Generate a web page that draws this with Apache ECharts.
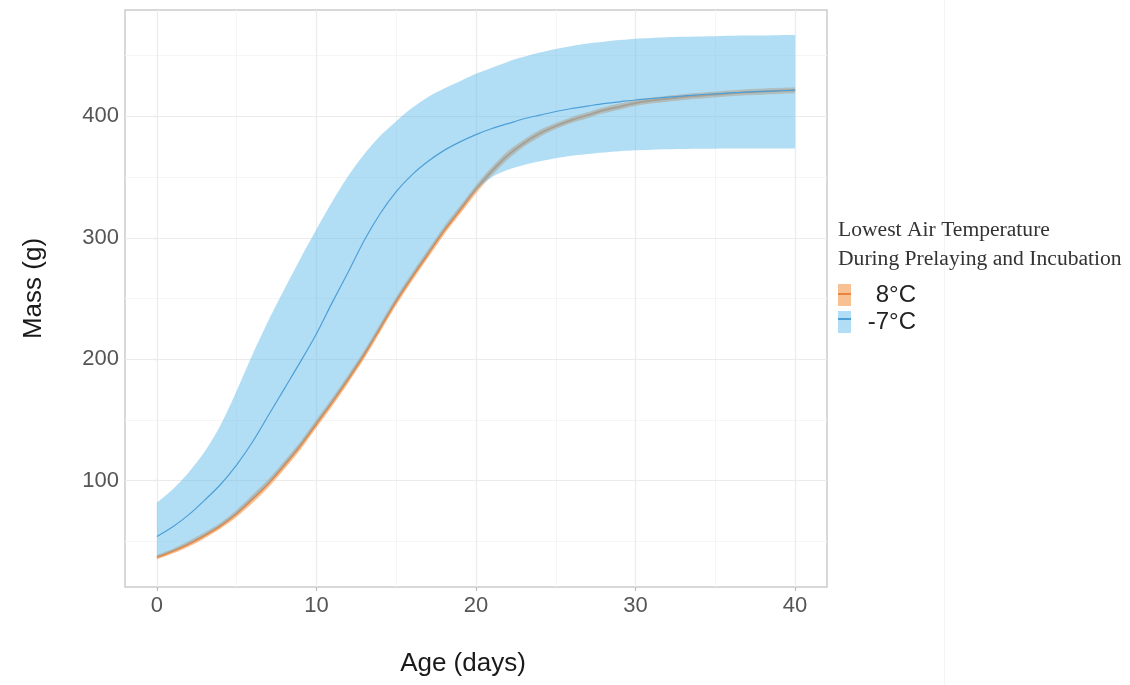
<!DOCTYPE html>
<html>
<head>
<meta charset="utf-8">
<script src="https://cdn.jsdelivr.net/npm/echarts@6/dist/echarts.min.js"></script>
<style>
  html, body { margin: 0; padding: 0; background: #ffffff; }
  #chart { width: 1130px; height: 685px; }
</style>
</head>
<body>
<div id="chart"></div>
<script>
// Age of the chicks (days)
const ages = [0, 1, 2, 3, 4, 5, 6, 7, 8, 9, 10, 11, 12, 13, 14, 15, 16, 17, 18, 19, 20,
  21, 22, 23, 24, 25, 26, 27, 28, 29, 30, 31, 32, 33, 34, 35, 36, 37, 38, 39, 40];

// Fitted mass (g) and its interval, lowest temperature 8°C
const mean8 = [37, 42, 48, 55, 63, 73, 85, 98, 113, 129, 147, 165, 184, 204, 226, 248, 268, 287, 306, 323, 340,
  355, 368, 378, 386, 392, 397, 401, 405, 408, 411, 413, 414.5, 416, 417, 418, 419, 419.8, 420.4, 421, 421.5];
const low8 = [35, 40, 45.5, 52.5, 60.5, 70, 81.5, 94.5, 109.5, 125.5, 143.5, 161.5, 180.5, 200.5, 222.5, 244.5, 264.5, 283.5, 302.5, 319.5, 336.5,
  351.5, 364.5, 375, 383, 389.5, 394.5, 398.5, 402.5, 405.5, 408.5, 410.5, 412, 413.5, 414.5, 415.5, 416.5, 417.3, 417.9, 418.5, 419];
const high8 = [39, 44, 50.5, 57.5, 65.5, 76, 88.5, 101.5, 116.5, 132.5, 150.5, 168.5, 187.5, 207.5, 229.5, 251.5, 271.5, 290.5, 309.5, 326.5, 343.5,
  358.5, 371.5, 381, 389, 394.5, 399.5, 403.5, 407.5, 410.5, 413.5, 415.5, 417, 418.5, 419.5, 420.5, 421.5, 422.3, 422.9, 423.5, 424];

// Fitted mass (g) and its interval, lowest temperature -7°C
const mean7 = [54, 62, 72, 84, 97, 113, 132, 154, 176, 198, 221, 247, 272, 298, 320, 338, 352, 363, 372, 379, 385,
  390, 394, 398, 401, 404, 406.5, 408.5, 410.5, 412, 413.5, 414.7, 415.8, 416.8, 417.8, 418.6, 419.3, 420, 420.6, 421.1, 421.6];
const low7 = [37, 42, 48, 55, 63, 73, 85, 98, 113, 129, 147, 165, 184, 204, 226, 248, 268, 287, 306, 323, 339,
  350, 356, 360, 363, 365.5, 367.5, 369, 370.3, 371.3, 372, 372.5, 372.9, 373.1, 373.3, 373.4, 373.5, 373.5, 373.5, 373.5, 373.5];
const high7 = [82, 93, 107, 124, 146, 174, 204, 232, 258, 283, 307, 330, 351, 369, 384, 396, 407, 416, 423, 429, 435,
  440, 445, 449, 452.5, 455.5, 458, 460, 461.5, 462.8, 464, 464.6, 465.1, 465.5, 465.8, 466, 466.3, 466.5, 466.7, 466.9, 467];

// Axis ticks and grid
const xTicks = [0, 10, 20, 30, 40];
const xMinor = [5, 15, 25, 35];
const yTicks = [100, 200, 300, 400];
const yMinor = [50, 150, 250, 350, 450];

const groupNames = ['8°C', '-7°C'];
const legendTitle = 'Lowest Air Temperature\nDuring Prelaying and Incubation';

const COLORS = {
  band8: 'rgba(242,142,60,0.55)',
  line8: '#e8843f',
  band7: 'rgba(101,189,235,0.5)',
  line7: '#4d9fd8'
};

const sansFont = 'Liberation Sans, Arial, sans-serif';
const SMOOTH = 0.3;

const pairs = vals => ages.map((a, i) => [a, vals[i]]);

const gridLines = [].concat(
  yMinor.map(v => ({ yAxis: v, lineStyle: { color: '#f5f5f5', width: 1, type: 'solid' } })),
  xMinor.map(v => ({ xAxis: v, lineStyle: { color: '#f5f5f5', width: 1, type: 'solid' } })),
  yTicks.map(v => ({ yAxis: v, lineStyle: { color: '#ebebeb', width: 1.2, type: 'solid' } })),
  xTicks.map(v => ({ xAxis: v, lineStyle: { color: '#ebebeb', width: 1.2, type: 'solid' } }))
);

// Interval ribbon: one closed polygon between the lower and upper bounds.
// End points are repeated so the smoothing keeps the two ends square.
function ribbon(name, lo, hi, color, z) {
  return {
    type: 'custom', name: name, z: z, silent: true, clip: true,
    data: ages.map((a, i) => [a, lo[i], hi[i]]),
    encode: { x: 0, y: [1, 2] },
    renderItem: function (params, api) {
      if (params.dataIndex !== 0) return null;
      const top = ages.map((a, i) => api.coord([a, hi[i]]));
      const bottom = ages.map((a, i) => api.coord([a, lo[i]])).reverse();
      const n = top.length;
      const pts = [top[0]].concat(top, [top[n - 1]], [bottom[0]], bottom, [bottom[n - 1]]);
      return {
        type: 'polygon',
        shape: { points: pts, smooth: SMOOTH },
        style: { fill: color, stroke: null }
      };
    }
  };
}

function meanLine(name, vals, color, width, z) {
  return {
    type: 'line', name: name, data: pairs(vals), smooth: SMOOTH, symbol: 'none',
    lineStyle: { color: color, width: width }, silent: true, z: z
  };
}

const chart = echarts.init(document.getElementById('chart'), null, { renderer: 'canvas' });

chart.setOption({
  animation: false,
  backgroundColor: '#ffffff',
  title: {
    text: legendTitle, left: 833, top: 211,
    textStyle: { fontFamily: 'Liberation Serif, Times New Roman, serif', fontSize: 21.6, fontWeight: 'normal', lineHeight: 29, color: '#333333' }
  },
  grid: {
    left: 125, right: 303, top: 10, bottom: 98,
    show: true, borderColor: '#cccccc', borderWidth: 1.5, backgroundColor: 'transparent'
  },
  legend: [
    {
      orient: 'vertical', left: 833, top: 278, itemWidth: 13, itemHeight: 22, itemGap: 3,
      icon: 'rect', selectedMode: false,
      data: [
        { name: groupNames[0], itemStyle: { color: COLORS.band8, borderWidth: 0 } },
        { name: groupNames[1], itemStyle: { color: COLORS.band7, borderWidth: 0 } }
      ],
      formatter: n => '{r|' + n + '}',
      textStyle: { rich: { r: { width: 60, align: 'right', fontSize: 24, lineHeight: 22, color: '#222222', fontFamily: sansFont } } }
    },
    {
      orient: 'vertical', left: 833, top: 288, itemWidth: 13, itemHeight: 2, itemGap: 23,
      icon: 'rect', selectedMode: false,
      data: [
        { name: groupNames[0], itemStyle: { color: COLORS.line8, borderWidth: 0 } },
        { name: groupNames[1], itemStyle: { color: COLORS.line7, borderWidth: 0 } }
      ],
      formatter: () => '',
      textStyle: { fontSize: 1, lineHeight: 2 }
    }
  ],
  xAxis: {
    type: 'value', min: -2, max: 42,
    splitLine: { show: false }, axisLine: { show: false },
    axisTick: { show: true, customValues: xTicks, length: 4, lineStyle: { color: '#bdbdbd', width: 1.2 } },
    axisLabel: { customValues: xTicks, fontSize: 22, color: '#555555', fontFamily: sansFont, margin: 8 },
    name: 'Age (days)', nameLocation: 'middle', nameGap: 64,
    nameTextStyle: { fontSize: 26, color: '#1a1a1a', fontFamily: sansFont, padding: [0, 26, 0, 0] }
  },
  yAxis: {
    type: 'value', min: 12.4, max: 487.6,
    splitLine: { show: false }, axisLine: { show: false },
    axisTick: { show: true, customValues: yTicks, length: 4, lineStyle: { color: '#bdbdbd', width: 1.2 } },
    axisLabel: { customValues: yTicks, fontSize: 22, color: '#555555', fontFamily: sansFont, margin: 6 },
    name: 'Mass (g)', nameLocation: 'middle', nameGap: 78, nameRotate: 90,
    nameTextStyle: { fontSize: 26, color: '#1a1a1a', fontFamily: sansFont, padding: [0, 0, 0, 20] }
  },
  graphic: [
    { type: 'line', silent: true, shape: { x1: 944.5, y1: 0, x2: 944.5, y2: 685 }, style: { stroke: '#f3f3f3', lineWidth: 1 } }
  ],
  series: [
    {
      type: 'line', name: 'grid', data: [], silent: true, z: 1,
      markLine: { silent: true, z: 1, symbol: ['none', 'none'], label: { show: false }, animation: false, data: gridLines }
    },
    ribbon(groupNames[0], low8, high8, COLORS.band8, 2),
    meanLine(groupNames[0], mean8, COLORS.line8, 2, 3),
    ribbon(groupNames[1], low7, high7, COLORS.band7, 4),
    meanLine(groupNames[1], mean7, COLORS.line7, 1.2, 5)
  ]
});
</script>
</body>
</html>
